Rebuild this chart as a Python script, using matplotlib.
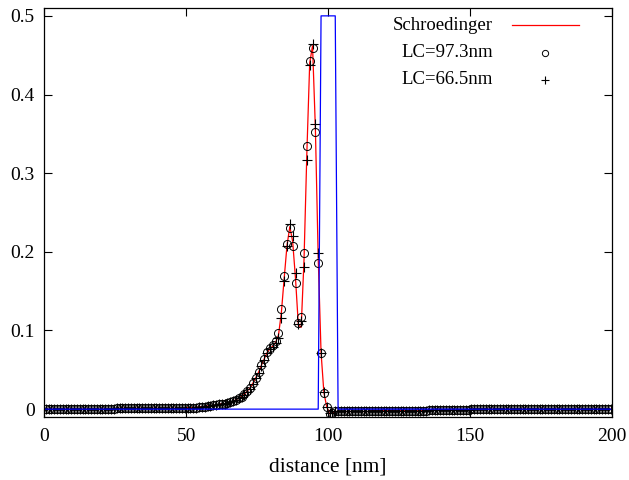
import numpy as np
import matplotlib
matplotlib.use("Agg")
import matplotlib.pyplot as plt
from matplotlib.ticker import FormatStrFormatter

# grid: cell centres, 1 nm apart
x = np.arange(0.5, 200.0, 1.0)

# shared flat left tail (0.5 .. 49.5 nm)
tail_left = [0.000, 0.000, 0.000, 0.000, 0.000, 0.000, 0.000, 0.000, 0.000, 0.000,
             0.000, 0.000, 0.000, 0.000, 0.000, 0.000, 0.000, 0.000, 0.000, 0.000,
             0.000, 0.000, 0.000, 0.000, 0.000, 0.001, 0.001, 0.001, 0.001, 0.001,
             0.001, 0.001, 0.001, 0.001, 0.001, 0.001, 0.001, 0.001, 0.001, 0.001,
             0.001, 0.001, 0.001, 0.001, 0.001, 0.001, 0.001, 0.001, 0.001, 0.001]

# shared slow rise (50.5 .. 69.5 nm)
rise = [0.002, 0.002, 0.002, 0.002, 0.003, 0.003, 0.003, 0.004, 0.004, 0.005,
        0.005, 0.006, 0.007, 0.007, 0.008, 0.009, 0.010, 0.012, 0.014, 0.016]

# 70.5 .. 100.5 nm
core_schroedinger = [0.019, 0.023, 0.027, 0.033, 0.040, 0.047, 0.056, 0.064, 0.072, 0.077,
                     0.080, 0.085, 0.094, 0.122, 0.166, 0.208, 0.232, 0.213, 0.166, 0.107,
                     0.104, 0.190, 0.326, 0.440, 0.462, 0.357, 0.192, 0.072, 0.021, 0.003,
                     -0.006]
core_lc973 = [0.019, 0.023, 0.027, 0.033, 0.040, 0.047, 0.056, 0.064, 0.073, 0.078,
              0.081, 0.086, 0.097, 0.127, 0.169, 0.210, 0.230, 0.207, 0.160, 0.110,
              0.117, 0.198, 0.334, 0.442, 0.459, 0.352, 0.186, 0.072, 0.021, 0.003,
              -0.006]
core_lc665 = [0.018, 0.022, 0.026, 0.032, 0.039, 0.046, 0.055, 0.063, 0.071, 0.076,
              0.079, 0.084, 0.091, 0.116, 0.163, 0.207, 0.235, 0.220, 0.173, 0.108,
              0.112, 0.181, 0.317, 0.437, 0.464, 0.363, 0.198, 0.072, 0.022, 0.003,
              -0.005]

# shared right tail (101.5 .. 199.5 nm)
tail_right = ([-0.005]
              + [-0.003, -0.003, -0.003, -0.003, -0.003, -0.003, -0.003, -0.003, -0.003, -0.003,
                 -0.003, -0.003, -0.003]
              + [-0.002, -0.002, -0.002, -0.002, -0.002, -0.002, -0.002, -0.002, -0.002, -0.002,
                 -0.002, -0.002, -0.002, -0.002, -0.002, -0.002, -0.002, -0.002, -0.002, -0.002]
              + [-0.001, -0.001, -0.001, -0.001, -0.001, -0.001, -0.001, -0.001, -0.001, -0.001,
                 -0.001, -0.001, -0.001, -0.001, -0.001]
              + [0.000, 0.000, 0.000, 0.000, 0.000, 0.000, 0.000, 0.000, 0.000, 0.000,
                 0.000, 0.000, 0.000, 0.000, 0.000, 0.000, 0.000, 0.000, 0.000, 0.000,
                 0.000, 0.000, 0.000, 0.000, 0.000, 0.000, 0.000, 0.000, 0.000, 0.000,
                 0.000, 0.000, 0.000, 0.000, 0.000, 0.000, 0.000, 0.000, 0.000, 0.000,
                 0.000, 0.000, 0.000, 0.000, 0.000, 0.000, 0.000, 0.000, 0.000, 0.000])

schroedinger = tail_left + rise + core_schroedinger + tail_right
lc973 = tail_left + rise + core_lc973 + tail_right
lc665 = tail_left + rise + core_lc665 + tail_right

# barrier potential
pot_x = [0.5, 96.5, 97.5, 102.5, 103.5, 199.5]
pot_y = [0.0, 0.0, 0.5, 0.5, 0.0, 0.0]

plt.rcParams['font.family'] = ['Liberation Serif', 'DejaVu Serif']
plt.rcParams['font.size'] = 14

fig = plt.figure(figsize=(6.29, 4.80), dpi=100)
ax = fig.add_axes([44.3 / 629, 1 - 417 / 480, 567.7 / 629, 409 / 480])

ax.plot(x, schroedinger, color='#ff0000', lw=0.9, zorder=2)
ax.plot(x, lc973, ls='none', marker='o', ms=5.8, mfc='none', mec='black', mew=0.7, zorder=3)
ax.plot(x, lc665, ls='none', marker='+', ms=6.5, mec='black', mew=0.8, zorder=3)
ax.plot(pot_x, pot_y, color='#0000ff', lw=0.9, zorder=4)

ax.set_xlim(0, 200)
ax.set_ylim(-0.01, 0.51)
ax.set_xticks([0, 50, 100, 150, 200])
ax.set_yticks([0, 0.1, 0.2, 0.3, 0.4, 0.5])
ax.yaxis.set_major_formatter(FormatStrFormatter('%g'))
ax.tick_params(direction='in', length=6, width=0.8, top=True, right=True, pad=7)
ax.tick_params(axis='x', pad=8)
for s in ax.spines.values():
    s.set_linewidth(0.9)

ax.set_xlabel('distance [nm]', fontsize=15.5, labelpad=9)

# gnuplot style key: right-justified text, sample on the right
ax.text(0.790, 0.958, 'Schroedinger', transform=ax.transAxes, ha='right', va='center', fontsize=13.5)
ax.plot([0.824, 0.942], [0.958, 0.958], transform=ax.transAxes, color='#ff0000', lw=0.9)
ax.text(0.790, 0.891, 'LC=97.3nm', transform=ax.transAxes, ha='right', va='center', fontsize=13.5)
ax.plot([0.882], [0.891], transform=ax.transAxes, ls='none', marker='o', ms=4.5,
        mfc='none', mec='black', mew=0.7)
ax.text(0.790, 0.824, 'LC=66.5nm', transform=ax.transAxes, ha='right', va='center', fontsize=13.5)
ax.plot([0.882], [0.824], transform=ax.transAxes, ls='none', marker='+', ms=6.0,
        mec='black', mew=0.8)

fig.savefig('out.png', dpi=100)
